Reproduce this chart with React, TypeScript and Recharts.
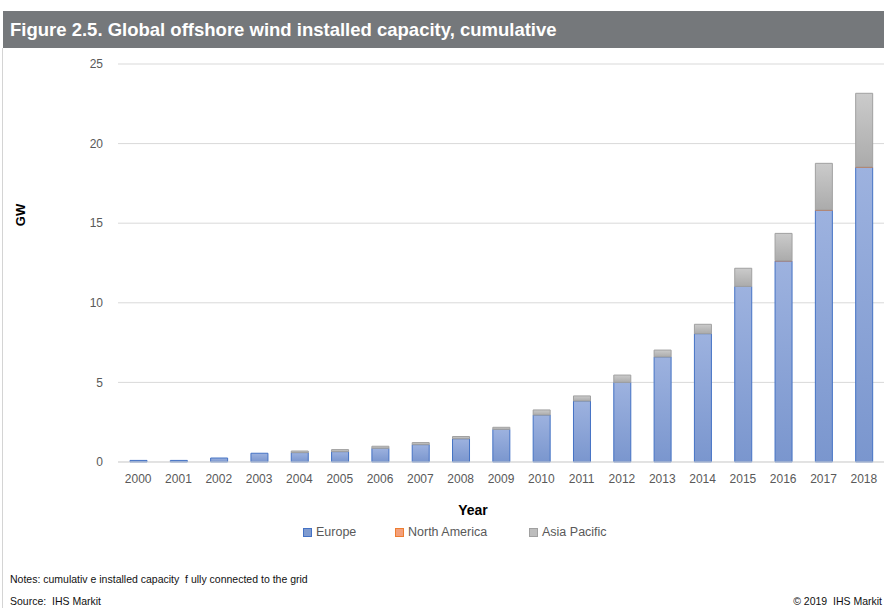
import { Bar, BarChart, CartesianGrid, XAxis, YAxis } from "recharts";

const years = ["2000", "2001", "2002", "2003", "2004", "2005", "2006", "2007", "2008", "2009", "2010", "2011", "2012", "2013", "2014", "2015", "2016", "2017", "2018"];
const europe = [0.1, 0.1, 0.25, 0.55, 0.59, 0.65, 0.86, 1.09, 1.46, 2.05, 2.95, 3.83, 5.0, 6.6, 8.06, 11.03, 12.62, 15.81, 18.51];
const northAmerica = [0, 0, 0, 0, 0, 0, 0, 0, 0, 0, 0, 0, 0, 0, 0, 0, 0.03, 0.03, 0.03];
const asiaPacific = [0, 0, 0, 0, 0.1, 0.13, 0.13, 0.13, 0.14, 0.13, 0.32, 0.32, 0.46, 0.43, 0.59, 1.14, 1.71, 2.92, 4.62];
const yTicks = [0, 5, 10, 15, 20, 25];

const data = years.map((year, i) => ({
	year,
	europe: europe[i],
	northAmerica: northAmerica[i],
	asiaPacific: asiaPacific[i],
}));

const legendItems = [
	{ name: "Europe", fill: "#7F9BD0", stroke: "#4472C4", left: 303 },
	{ name: "North America", fill: "#F4A07A", stroke: "#ED7D31", left: 395 },
	{ name: "Asia Pacific", fill: "#BDBDBD", stroke: "#A0A0A0", left: 529 },
];

const font = "'Liberation Sans', Arial, sans-serif";

export default function App() {
	return (
		<div style={{ position: "fixed", left: 0, top: 0, width: 884, height: 608, overflow: "hidden", background: "#fff", fontFamily: font }}>
			{/* title bar */}
			<div
				style={{
					position: "absolute",
					left: 3,
					top: 11,
					width: 881,
					height: 37,
					background: "#75787B",
					color: "#fff",
					fontWeight: "bold",
					fontSize: 18.5,
					lineHeight: "38px",
					paddingLeft: 7,
					boxSizing: "border-box",
					whiteSpace: "nowrap",
				}}
			>
				Figure 2.5. Global offshore wind installed capacity, cumulative
			</div>
			<div style={{ position: "absolute", left: 2, top: 48, width: 1, height: 560, background: "#D4D4D4" }} />

			<div style={{ position: "absolute", left: 0, top: 0 }}>
				<BarChart width={884} height={608} data={data} margin={{ top: 64, right: 0, left: 0, bottom: 116 }} barSize={17}>
					<defs>
						<linearGradient id="gEu" x1="0" y1="0" x2="0" y2="1">
							<stop offset="0%" stopColor="#9DB2DF" />
							<stop offset="100%" stopColor="#7A96CE" />
						</linearGradient>
						<linearGradient id="gAp" x1="0" y1="0" x2="0" y2="1">
							<stop offset="0%" stopColor="#CBCBCB" />
							<stop offset="100%" stopColor="#ABABAB" />
						</linearGradient>
					</defs>
					<CartesianGrid vertical={false} stroke="#D9D9D9" />
					<XAxis
						dataKey="year"
						height={30}
						axisLine={{ stroke: "#D9D9D9" }}
						tickLine={false}
						tickSize={0}
						tickMargin={12}
						interval={0}
						tick={{ fill: "#595959", fontSize: 12, fontFamily: font }}
					/>
					<YAxis
						width={118}
						domain={[0, 25]}
						ticks={yTicks}
						axisLine={false}
						tickLine={false}
						tickSize={0}
						tickMargin={15}
						tick={{ fill: "#595959", fontSize: 12, fontFamily: font }}
					/>
					<Bar dataKey="europe" stackId="a" fill="url(#gEu)" stroke="#4472C4" strokeWidth={1} isAnimationActive={false} />
					<Bar dataKey="northAmerica" stackId="a" fill="#ED7D31" stroke="#ED7D31" strokeWidth={0.5} isAnimationActive={false} />
					<Bar dataKey="asiaPacific" stackId="a" fill="url(#gAp)" stroke="#A0A0A0" strokeWidth={1} isAnimationActive={false} />
				</BarChart>
			</div>

			{/* axis titles */}
			<div
				style={{
					position: "absolute",
					left: 20,
					top: 215,
					transform: "translate(-50%, -50%) rotate(-90deg)",
					fontWeight: "bold",
					fontSize: 13,
					color: "#000",
				}}
			>
				GW
			</div>
			<div style={{ position: "absolute", left: 473, top: 510, transform: "translate(-50%, -50%)", fontWeight: "bold", fontSize: 14, color: "#000" }}>
				Year
			</div>

			{/* legend */}
			{legendItems.map((it) => (
				<div
					key={it.name}
					style={{ position: "absolute", left: it.left, top: 524, height: 16, display: "flex", alignItems: "center", color: "#595959", fontSize: 12.5, whiteSpace: "nowrap" }}
				>
					<span style={{ width: 7, height: 7, background: it.fill, border: `1px solid ${it.stroke}`, marginRight: 4 }} />
					{it.name}
				</div>
			))}

			{/* notes */}
			<div style={{ position: "absolute", left: 10, top: 573, fontSize: 10.5, color: "#111", whiteSpace: "pre" }}>
				Notes: cumulativ e installed capacity  f ully connected to the grid
			</div>
			<div style={{ position: "absolute", left: 10, top: 595, fontSize: 10.5, color: "#111", whiteSpace: "pre" }}>{"Source:  IHS Markit"}</div>
			<div style={{ position: "absolute", right: 2, top: 595, fontSize: 10.5, color: "#111", whiteSpace: "pre" }}>{"© 2019  IHS Markit"}</div>
		</div>
	);
}
